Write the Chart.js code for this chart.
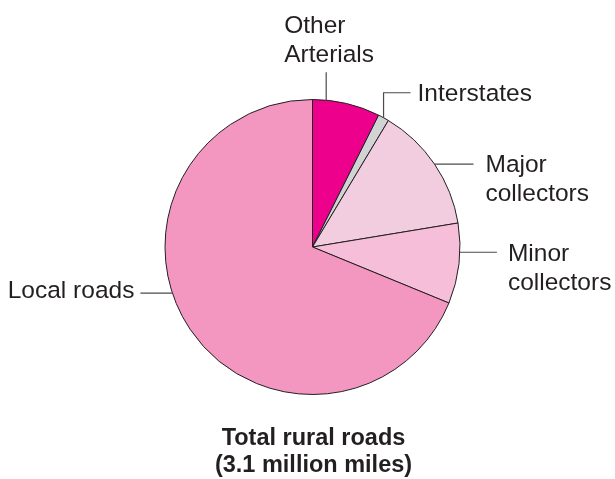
<!DOCTYPE html>
<html>
<head>
<meta charset="utf-8">
<script src="https://cdn.jsdelivr.net/npm/chart.js@4/dist/chart.umd.min.js"></script>
<style>
  html, body { margin:0; padding:0; background:#fff; }
  #wrap { width:615px; height:479px; }
</style>
</head>
<body>
<div id="wrap"><canvas id="pie" width="615" height="479"></canvas></div>
<script>
/* rural road mileage by functional class, share of total (%) */
const categories = ["Other Arterials", "Interstates", "Major collectors", "Minor collectors", "Local roads"];
const shares = [7.4, 1.2, 13.8, 8.8, 68.8];
const sliceColors = ["#ec008c", "#d1d3d4", "#f2cddf", "#f6bed8", "#f397c1"];
const titleLines = ["Total rural roads", "(3.1 million miles)"];

const INK = "#231f20";
const FONT = "24.5px 'Liberation Sans', Arial, sans-serif";

// label callouts: which slice, where on its arc (0..1), leader style
const callouts = [
  { i:0, t:0.2, lines:["Other", "Arterials"], kind:"up",    len:28, dx:-42, lead:29.5 },
  { i:1, t:0.5, lines:["Interstates"],        kind:"elbow", len:25, run:27, gap:7,  base:8.5 },
  { i:2, t:0.5, lines:["Major", "collectors"], kind:"right", len:39, gap:12, base:8.3 },
  { i:3, t:0.36, lines:["Minor", "collectors"], kind:"right", len:37, gap:11, base:8.7 },
  { i:4, t:0.563, lines:["Local roads"],      kind:"left",  len:32, gap:6,  base:5 }
];

const calloutPlugin = {
  id: "callouts",
  afterDraw(chart) {
    const ctx = chart.ctx;
    const arcs = chart.getDatasetMeta(0).data;
    ctx.save();
    ctx.font = FONT;
    ctx.fillStyle = INK;
    ctx.strokeStyle = "#4a4a4a";
    ctx.lineWidth = 1.2;
    callouts.forEach(c => {
      const a = arcs[c.i];
      const p = a.getProps(["x", "y", "startAngle", "endAngle", "outerRadius"]);
      const ang = p.startAngle + c.t * (p.endAngle - p.startAngle);
      const sx = p.x + Math.cos(ang) * p.outerRadius;
      const sy = p.y + Math.sin(ang) * p.outerRadius;
      ctx.beginPath();
      ctx.moveTo(sx, sy);
      if (c.kind === "up") {
        ctx.lineTo(sx, sy - c.len);
        ctx.stroke();
        ctx.textAlign = "left";
        const n = c.lines.length;
        c.lines.forEach((s, k) => {
          ctx.fillText(s, sx + c.dx, sy - c.len - 10 - (n - 1 - k) * c.lead);
        });
      } else if (c.kind === "elbow") {
        ctx.lineTo(sx, sy - c.len);
        ctx.lineTo(sx + c.run, sy - c.len);
        ctx.stroke();
        ctx.textAlign = "left";
        ctx.fillText(c.lines[0], sx + c.run + c.gap, sy - c.len + c.base);
      } else if (c.kind === "right") {
        ctx.lineTo(sx + c.len, sy);
        ctx.stroke();
        ctx.textAlign = "left";
        c.lines.forEach((s, k) => {
          ctx.fillText(s, sx + c.len + c.gap, sy + c.base + k * 28.8);
        });
      } else {
        ctx.lineTo(sx - c.len, sy);
        ctx.stroke();
        ctx.textAlign = "right";
        ctx.fillText(c.lines[0], sx - c.len - c.gap, sy + c.base);
      }
    });

    // caption under the pie
    const a0 = arcs[0];
    ctx.font = "bold 23.5px 'Liberation Sans', Arial, sans-serif";
    ctx.textAlign = "center";
    ctx.fillText(titleLines[0], a0.x + 1, a0.y + a0.outerRadius + 50);
    ctx.fillText(titleLines[1], a0.x + 1, a0.y + a0.outerRadius + 77);
    ctx.restore();
  }
};

new Chart(document.getElementById("pie").getContext("2d"), {
  type: "pie",
  data: {
    labels: categories,
    datasets: [{
      data: shares,
      backgroundColor: sliceColors,
      borderColor: INK,
      borderWidth: 1
    }]
  },
  options: {
    responsive: false,
    animation: false,
    layout: { padding: { top: 99, bottom: 84, left: 164.5, right: 154.5 } },
    plugins: { legend: { display: false }, tooltip: { enabled: false } }
  },
  plugins: [calloutPlugin]
});
</script>
</body>
</html>
